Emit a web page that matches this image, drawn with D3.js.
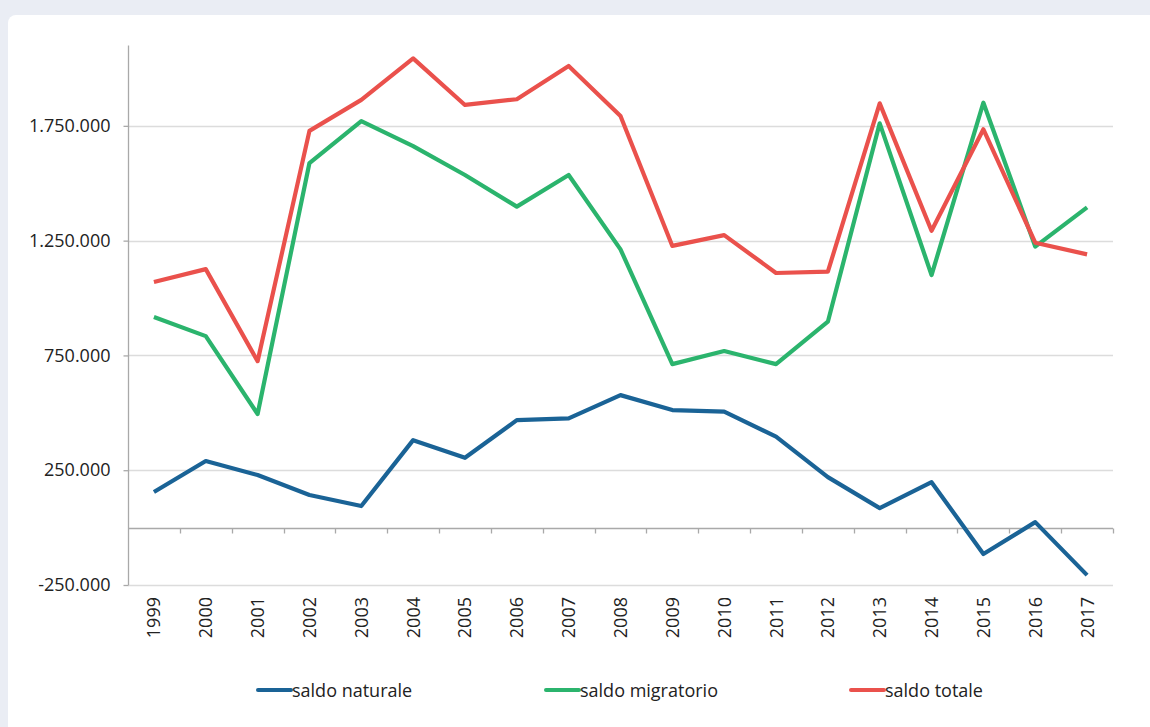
<!DOCTYPE html>
<html>
<head>
<meta charset="utf-8">
<script src="https://cdn.jsdelivr.net/npm/d3@7"></script>
<style>
  html, body { margin: 0; padding: 0; background: #eaedf4; }
  body { width: 1150px; height: 727px; overflow: hidden; position: relative; }
  #card { position: absolute; left: 8px; top: 15px; width: 1160px; height: 730px; background: #fff; border-radius: 8px; }
  #chart { position: absolute; left: 0; top: 0; }
  text { font-family: "Open Sans", "Noto Sans", sans-serif; fill: #222; }
</style>
</head>
<body>
<div id="card"></div>
<div id="chart"></div>
<script>
// data
var years = ["1999", "2000", "2001", "2002", "2003", "2004", "2005", "2006", "2007", "2008",
  "2009", "2010", "2011", "2012", "2013", "2014", "2015", "2016", "2017"];
var saldoNaturale = [155000, 290000, 229000, 142000, 94000, 381000, 304000, 468000, 476000, 577000,
  512000, 505000, 396000, 220000, 85000, 198000, -115000, 24000, -207000];
var saldoMigratorio = [917000, 834000, 495000, 1588000, 1771000, 1662000, 1536000, 1398000, 1536000, 1212000,
  712000, 769000, 712000, 897000, 1761000, 1100000, 1851000, 1224000, 1395000];
var saldoTotale = [1070000, 1126000, 725000, 1728000, 1863000, 2044000, 1841000, 1866000, 2011000, 1793000,
  1227000, 1274000, 1109000, 1115000, 1848000, 1293000, 1735000, 1241000, 1190000];
var yTicks = [-250000, 250000, 750000, 1250000, 1750000];
var seriesNames = ["saldo naturale", "saldo migratorio", "saldo totale"];
var seriesColors = ["#1a6396", "#2bb46d", "#ea514c"];

var svgWidth = 1150;
var svgHeight = 727;

var svg = d3.select("#chart")
  .append("svg")
  .attr("width", svgWidth)
  .attr("height", svgHeight);

var plotLeft = 128, plotRight = 1113, plotTop = 45.5, plotBottom = 585;

var xScale = d3.scaleBand()
  .domain(years)
  .range([plotLeft, plotRight]);

var yScale = d3.scaleLinear()
  .domain([-250000, 2100000])
  .range([plotBottom, plotTop]);

// italian number format, plain hyphen for negatives
var it = d3.formatLocale({ decimal: ",", thousands: ".", grouping: [3], currency: ["", "€"], minus: "-" });
var fmt = it.format(",");

// gridlines
svg.append("g")
  .selectAll("line")
  .data(yTicks)
  .join("line")
  .attr("x1", plotLeft)
  .attr("x2", plotRight)
  .attr("y1", d => Math.round(yScale(d)) + 0.5)
  .attr("y2", d => Math.round(yScale(d)) + 0.5)
  .attr("stroke", "#dcdcdc")
  .attr("stroke-width", 1.3);

// y axis
var yAxis = svg.append("g")
  .attr("transform", "translate(" + (plotLeft + 0.5) + ",0)")
  .call(d3.axisLeft(yScale).tickValues(yTicks).tickFormat(fmt).tickSize(5).tickPadding(13));
yAxis.select(".domain").attr("stroke", "#a9a9a9").attr("stroke-width", 1.3)
  .attr("d", "M0," + plotTop + "V" + plotBottom);
yAxis.selectAll(".tick line").attr("stroke", "#a9a9a9").attr("stroke-width", 1.3);
yAxis.selectAll(".tick text")
  .style("font-family", '"Open Sans", "Noto Sans", sans-serif')
  .style("font-size", "18px")
  .attr("fill", "#222");

// zero line with ticks at category boundaries
var zeroY = Math.round(yScale(0)) + 0.5;
svg.append("line")
  .attr("x1", plotLeft)
  .attr("x2", plotRight)
  .attr("y1", zeroY)
  .attr("y2", zeroY)
  .attr("stroke", "#a9a9a9")
  .attr("stroke-width", 1.3);
svg.append("g")
  .selectAll("line")
  .data(years)
  .join("line")
  .attr("x1", d => Math.round(xScale(d) + xScale.bandwidth()) + 0.5)
  .attr("x2", d => Math.round(xScale(d) + xScale.bandwidth()) + 0.5)
  .attr("y1", zeroY)
  .attr("y2", zeroY + 5)
  .attr("stroke", "#a9a9a9")
  .attr("stroke-width", 1.3);

// year labels
svg.append("g")
  .selectAll("text")
  .data(years)
  .join("text")
  .attr("transform", d => "translate(" + (xScale(d) + xScale.bandwidth() / 2 + 6.5) + "," + 597 + ") rotate(-90)")
  .attr("text-anchor", "end")
  .style("font-size", "18px")
  .text(d => d);

// lines
var createLine = d3.line()
  .x((d, i) => xScale(years[i]) + xScale.bandwidth() / 2)
  .y(d => yScale(d));

[saldoNaturale, saldoMigratorio, saldoTotale].forEach(function(values, i) {
  svg.append("path")
    .attr("fill", "none")
    .attr("stroke", seriesColors[i])
    .attr("stroke-width", 4.2)
    .attr("stroke-linejoin", "round")
    .attr("d", createLine(values));
});

// legend
var legendX = [258, 546, 851];
var legend = svg.append("g")
  .selectAll("g")
  .data(seriesNames)
  .join("g")
  .attr("transform", (d, i) => "translate(" + legendX[i] + ",690)");
legend.append("line")
  .attr("x1", 0)
  .attr("x2", 33)
  .attr("stroke", (d, i) => seriesColors[i])
  .attr("stroke-width", 4)
  .attr("stroke-linecap", "round");
legend.append("text")
  .attr("x", 34)
  .attr("y", 7)
  .style("font-size", "18px")
  .text(d => d);
</script>
</body>
</html>
